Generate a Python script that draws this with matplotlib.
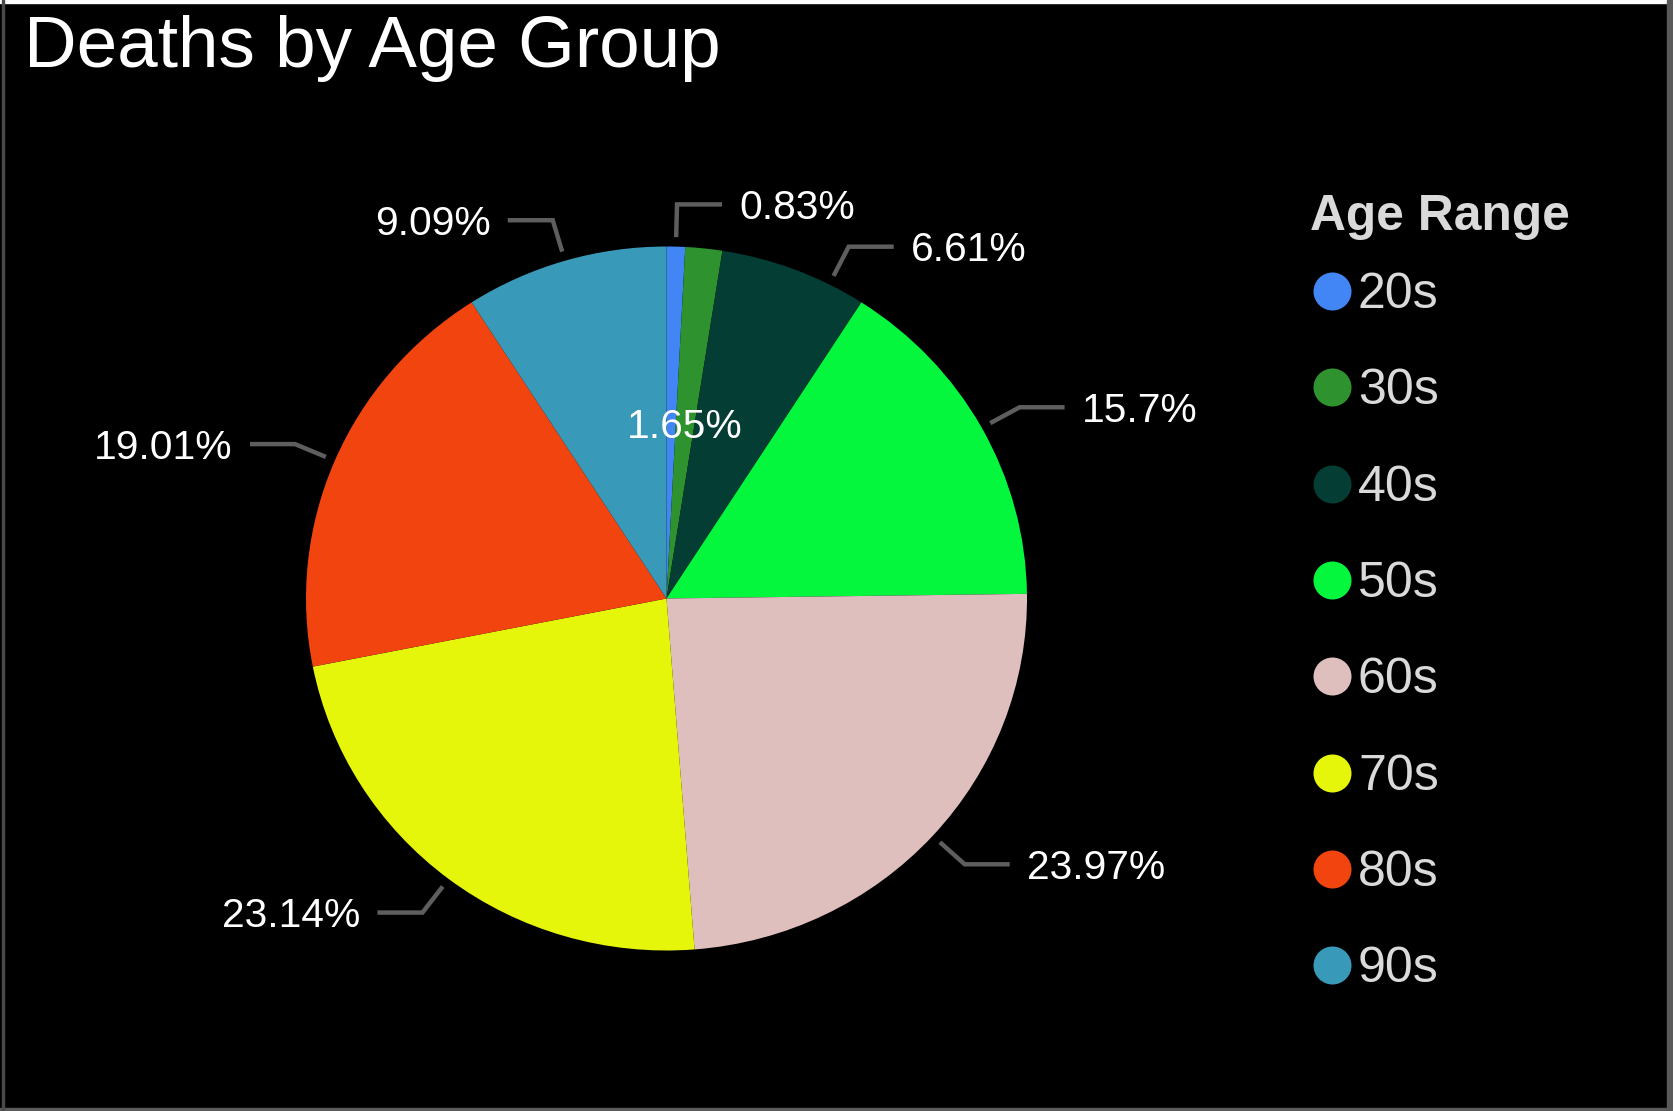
import matplotlib
matplotlib.use('Agg')
import matplotlib.pyplot as plt
import numpy as np
from matplotlib.patches import Rectangle

# ---------------- data ----------------
categories = ['20s', '30s', '40s', '50s', '60s', '70s', '80s', '90s']
percentages = [0.83, 1.65, 6.61, 15.7, 23.97, 23.14, 19.01, 9.09]
pct_labels = ['0.83%', '1.65%', '6.61%', '15.7%', '23.97%', '23.14%', '19.01%', '9.09%']
colors = ['#4285f4', '#2e922e', '#033d34', '#04f63d', '#dfbebe', '#e5f60a', '#f2440f', '#3999b9']
title = 'Deaths by Age Group'
legend_title = 'Age Range'

# ---------------- layout ----------------
W, H, DPI = 1673, 1111, 100
CX, CY, RX, RY = 666.5, 598.5, 360.5, 352.0   # pie centre / radii in pixels
FONT = 'Liberation Sans'
LABEL_PT = 29.3
inside_idx = {1}            # labels drawn inside the slice
angle_nudge = {2: 6.0}      # leader shifted to avoid collision
R_START, R_ELBOW, HSEG, GAP = 1.027, 1.12, 45, 17
LEADER_COLOR = '#5e5e5e'
LEG_COLOR = '#dadada'

fig = plt.figure(figsize=(W / DPI, H / DPI), dpi=DPI, facecolor='black')

ax = fig.add_axes([0, 0, 1, 1])
ax.set_facecolor('black')
wedges, _ = ax.pie(percentages, colors=colors, startangle=90, counterclock=False,
                   radius=1.0, center=(0, 0), wedgeprops=dict(linewidth=0))
ax.set_aspect('auto')
ax.set_xlim(-CX / RX, (W - CX) / RX)
ax.set_ylim((CY - H) / RY, CY / RY)
ax.axis('off')

ov = fig.add_axes([0, 0, 1, 1], facecolor='none')
ov.set_xlim(0, W)
ov.set_ylim(H, 0)
ov.axis('off')


def pt2px(pt):
    return pt * DPI / 72.0


def polar_px(theta_deg, r):
    t = np.radians(theta_deg)
    return CX + r * RX * np.sin(t), CY - r * RY * np.cos(t)


cap_lab = 0.716 * pt2px(29)
for i, w in enumerate(wedges):
    mid = 90.0 - (w.theta1 + w.theta2) / 2.0   # clockwise from top
    mid = mid % 360
    if i in inside_idx:
        x, y = polar_px(mid, 0.5)
        ov.text(x, y + cap_lab / 2, pct_labels[i], ha='center', va='baseline',
                color='white', fontsize=LABEL_PT, family=FONT)
        continue
    th = mid + angle_nudge.get(i, 0.0)
    x0, y0 = polar_px(th, R_START)
    x1, y1 = polar_px(th, R_ELBOW)
    side = 1 if np.sin(np.radians(th)) >= 0 else -1
    x2 = x1 + side * HSEG
    ov.plot([x0, x1, x2], [y0, y1, y1], color=LEADER_COLOR, lw=3.2,
            solid_capstyle='butt', solid_joinstyle='miter')
    ov.text(x2 + side * GAP, y1 + cap_lab / 2, pct_labels[i],
            ha='left' if side > 0 else 'right', va='baseline',
            color='white', fontsize=LABEL_PT, family=FONT)

# title
ov.text(24, 67, title, ha='left', va='baseline', color='white',
        fontsize=52.5, family=FONT)

# legend
LEG_TITLE_PT = 35.8
LEG_PT = 36
ov.text(1310, 213 + 0.716 * pt2px(35) / 2, legend_title, ha='left',
        va='baseline', color=LEG_COLOR, fontsize=LEG_TITLE_PT, family=FONT,
        fontweight='bold')
for i, (cat, col) in enumerate(zip(categories, colors)):
    y = 291 + i * 96.3
    ov.scatter([1332], [y], s=(38 * 72 / DPI) ** 2, color=col, linewidths=0)
    ov.text(1358, y + 0.716 * pt2px(34.5) / 2, cat, ha='left', va='baseline',
            color=LEG_COLOR, fontsize=LEG_PT, family=FONT)

# frame edges
ov.add_patch(Rectangle((0, 0), W, 3, color='white', clip_on=False))
ov.add_patch(Rectangle((W - 6, 0), 6, H, color='#5a5a5a', clip_on=False))
ov.add_patch(Rectangle((0, H - 3), W, 3, color='#5a5a5a', clip_on=False))
ov.add_patch(Rectangle((2, 0), 2, H, color='#4a4a4a', clip_on=False))

fig.savefig('out.png', dpi=DPI, facecolor='black')
